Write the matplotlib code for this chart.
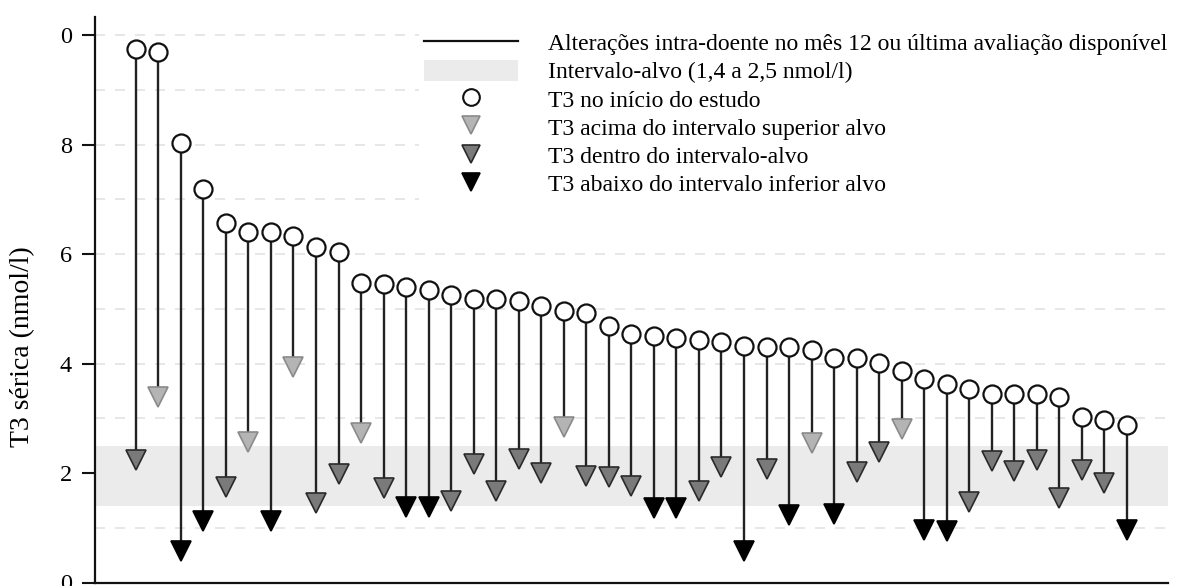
import numpy as np
import matplotlib.pyplot as plt
from matplotlib.lines import Line2D
from matplotlib.patches import Patch

plt.rcParams["font.family"] = ["Liberation Serif", "DejaVu Serif"]

# T3 at baseline and at month 12 / last available assessment (nmol/l), one per patient
t3_start = [9.75, 9.69, 8.03, 7.19, 6.57, 6.40, 6.40, 6.33, 6.13, 6.04,
            5.47, 5.45, 5.40, 5.34, 5.25, 5.18, 5.17, 5.15, 5.05, 4.96,
            4.92, 4.68, 4.54, 4.50, 4.47, 4.43, 4.39, 4.32, 4.30, 4.30,
            4.25, 4.11, 4.11, 4.01, 3.87, 3.72, 3.63, 3.53, 3.44, 3.44,
            3.44, 3.39, 3.03, 2.97, 2.88]
t3_end = [2.24, 3.39, 0.58, 1.12, 1.74, 2.57, 1.12, 3.94, 1.45, 1.98,
          2.73, 1.73, 1.38, 1.38, 1.49, 2.16, 1.67, 2.26, 2.00, 2.84,
          1.95, 1.93, 1.76, 1.36, 1.36, 1.67, 2.11, 0.58, 2.07, 1.24,
          2.55, 1.25, 2.01, 2.38, 2.81, 0.95, 0.94, 1.47, 2.22, 2.03,
          2.24, 1.55, 2.05, 1.81, 0.96]
target_low, target_high = 1.4, 2.5
y_ticks = [0, 2, 4, 6, 8, 10]
y_tick_labels = ["0", "2", "4", "6", "8", "0"]

legend_labels = [
    "Alterações intra-doente no mês 12 ou última avaliação disponível",
    "Intervalo-alvo (1,4 a 2,5 nmol/l)",
    "T3 no início do estudo",
    "T3 acima do intervalo superior alvo",
    "T3 dentro do intervalo-alvo",
    "T3 abaixo do intervalo inferior alvo",
]

above_color, within_color, below_color = "#b4b4b4", "#7a7a7a", "#000000"
above_edge, within_edge = "#8a8a8a", "#2a2a2a"

fig = plt.figure(figsize=(11.82, 5.86), dpi=100)
ax = fig.add_axes([95 / 1182, 3.5 / 586, (1168 - 95) / 1182, (582.5 - 17) / 586])

x = np.arange(1, len(t3_start) + 1)
ax.set_xlim(-0.81, 46.82)
ax.set_ylim(0, 10.33)

# dashed grid at every integer
for g in range(1, 11):
    ax.axhline(g, color="#e3e3e3", lw=1.2, ls=(0, (6, 6)), zorder=0)

# target band
ax.axhspan(target_low, target_high, color="#ebebeb", lw=0, zorder=1)

# stems
ax.vlines(x, t3_end, t3_start, color="#222222", lw=1.7, zorder=2)

# end markers coloured by position vs. target range
for xi, v in zip(x, t3_end):
    if v > target_high:
        fc, ec = above_color, above_edge
    elif v >= target_low:
        fc, ec = within_color, within_edge
    else:
        fc, ec = below_color, below_color
    ax.plot(xi, v, marker="v", ms=14, mfc=fc, mec=ec, mew=1.2, ls="none", zorder=3)

ax.plot(x, t3_start, "o", ms=13, mfc="white", mec="#111111", mew=1.6, ls="none", zorder=4)

ax.set_yticks(y_ticks)
ax.set_yticklabels(y_tick_labels, fontsize=17.5)
ax.set_xticks([])
ax.tick_params(axis="y", length=9.5, width=1.5, pad=7, color="#111111")
for s in ["top", "right"]:
    ax.spines[s].set_visible(False)
for s in ["left", "bottom"]:
    ax.spines[s].set_linewidth(1.6)
    ax.spines[s].set_color("#111111")

fig.text(23 / 1182, 1 - 347 / 586, "T3 sérica (nmol/l)", rotation=90,
         ha="center", va="center", fontsize=20)

handles = [
    Line2D([], [], color="#111111", lw=1.6),
    Patch(facecolor="#ebebeb", edgecolor="none"),
    Line2D([], [], marker="o", ls="none", ms=12, mfc="white", mec="#111111", mew=1.5),
    Line2D([], [], marker="v", ls="none", ms=13, mfc=above_color, mec=above_edge, mew=1.2),
    Line2D([], [], marker="v", ls="none", ms=13, mfc=within_color, mec=within_edge, mew=1.2),
    Line2D([], [], marker="v", ls="none", ms=13, mfc=below_color, mec=below_color, mew=1.2),
]
leg = fig.legend(handles, legend_labels, loc="upper left",
                 bbox_to_anchor=(419 / 1182, 1 - 27 / 586), fontsize=17,
                 frameon=True, facecolor="white", edgecolor="none", framealpha=1,
                 fancybox=False, borderpad=0.2, borderaxespad=0, labelspacing=0.19,
                 handlelength=4.0, handleheight=1.0, handletextpad=1.25)
leg.set_zorder(5)

fig.savefig("out.png", dpi=100)
